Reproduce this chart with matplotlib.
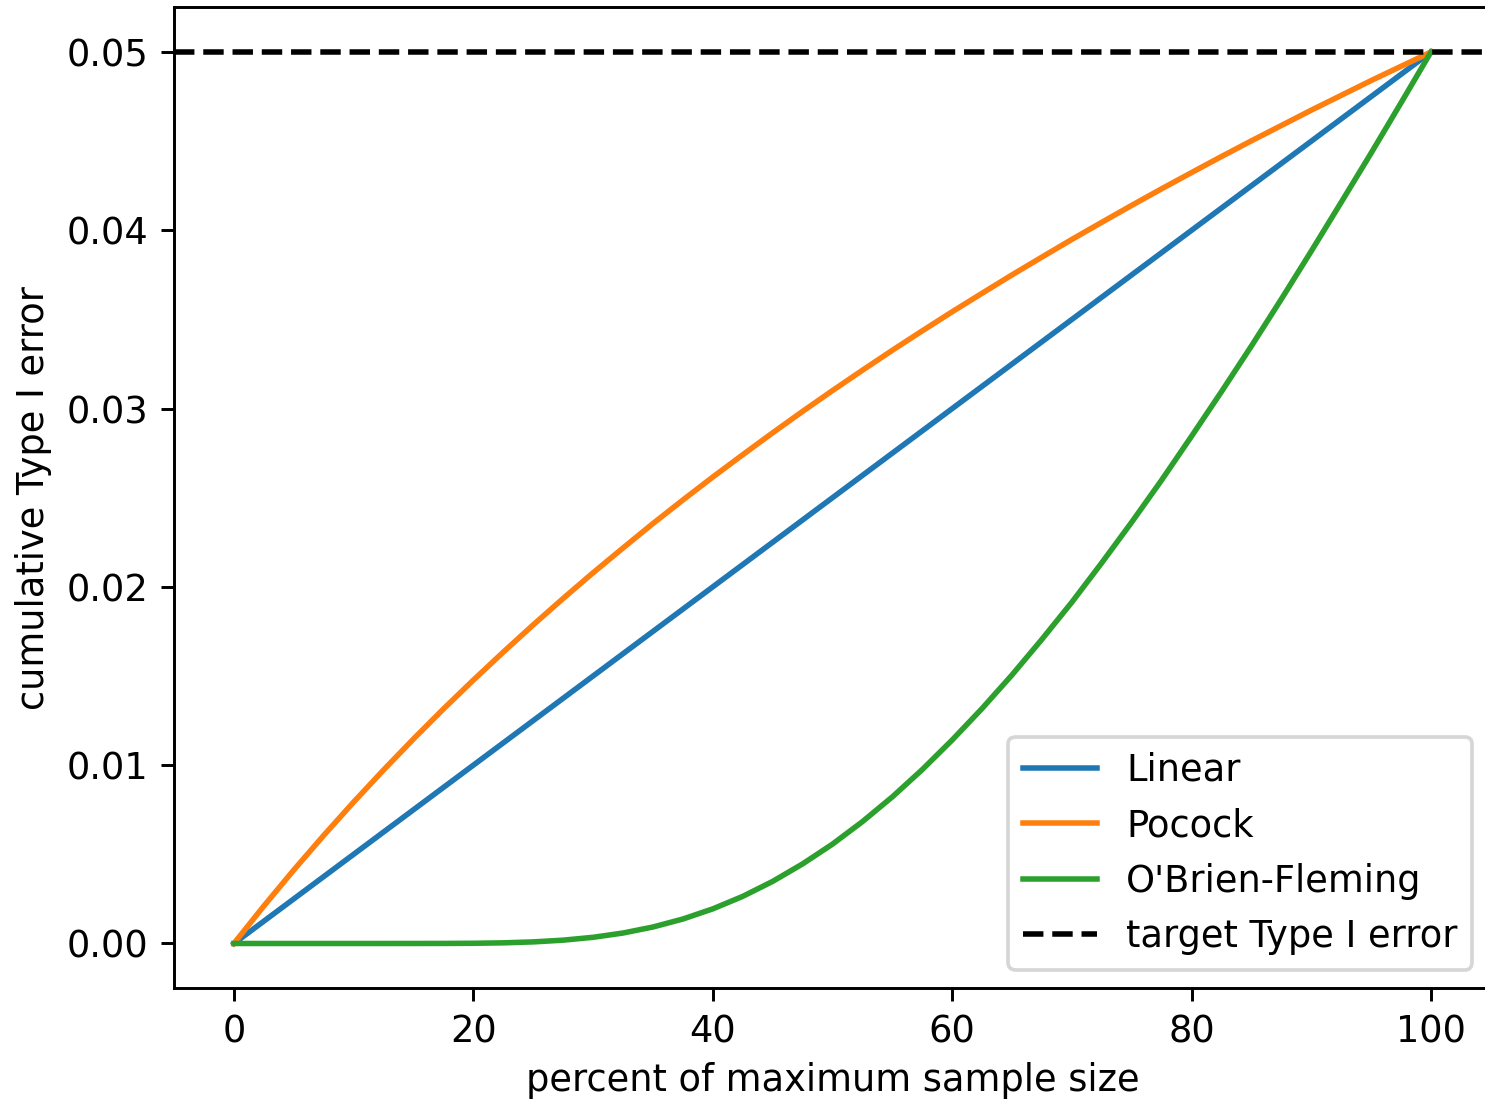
import matplotlib
matplotlib.use("Agg")
import matplotlib.pyplot as plt

# percent of maximum sample size
percent = [0, 2.5, 5, 7.5, 10, 12.5, 15, 17.5, 20, 22.5, 25, 27.5, 30, 32.5, 35, 37.5, 40,
           42.5, 45, 47.5, 50, 52.5, 55, 57.5, 60, 62.5, 65, 67.5, 70, 72.5, 75, 77.5, 80,
           82.5, 85, 87.5, 90, 92.5, 95, 97.5, 100]

# cumulative Type I error
linear = [0.0, 0.00125, 0.0025, 0.00375, 0.005, 0.00625, 0.0075, 0.00875, 0.010, 0.01125,
          0.0125, 0.01375, 0.015, 0.01625, 0.0175, 0.01875, 0.020, 0.02125, 0.0225, 0.02375,
          0.025, 0.02625, 0.0275, 0.02875, 0.030, 0.03125, 0.0325, 0.03375, 0.035, 0.03625,
          0.0375, 0.03875, 0.040, 0.04125, 0.0425, 0.04375, 0.045, 0.04625, 0.0475, 0.04875, 0.05]
pocock = [0.0, 0.00210, 0.00412, 0.00606, 0.00793, 0.00973, 0.01147, 0.01315, 0.01477, 0.01634,
          0.01787, 0.01935, 0.02079, 0.02218, 0.02355, 0.02487, 0.02616, 0.02741, 0.02864, 0.02984,
          0.03101, 0.03215, 0.03327, 0.03436, 0.03543, 0.03647, 0.03750, 0.03850, 0.03949, 0.04045,
          0.04140, 0.04233, 0.04324, 0.04414, 0.04502, 0.04588, 0.04674, 0.04757, 0.04840, 0.04920, 0.05]
obrien_fleming = [0.0, 0.0, 0.0, 0.0, 0.0, 0.0, 0.0000004, 0.0000028, 0.0000117, 0.000036,
                  0.0000886, 0.000186, 0.000346, 0.000586, 0.000923, 0.00137, 0.00194, 0.00264,
                  0.00348, 0.00446, 0.00557, 0.00683, 0.00822, 0.00975, 0.01141, 0.01318,
                  0.01506, 0.01706, 0.01914, 0.02135, 0.02363, 0.02599, 0.02845, 0.03095,
                  0.03351, 0.03614, 0.03883, 0.04157, 0.04433, 0.04715, 0.05]
target_alpha = 0.05

dpi = 265
fig = plt.figure(figsize=(1485 / dpi, 1102 / dpi), dpi=dpi)
# the reference is cropped so the right spine falls just outside the image
ax = fig.add_axes([0.1172, 0.1034, 0.8867, 0.8898])

ax.plot(percent, linear, label="Linear")
ax.plot(percent, pocock, label="Pocock")
ax.plot(percent, obrien_fleming, label="O'Brien-Fleming")
ax.axhline(y=target_alpha, color="black", linestyle="--", label="target Type I error")

ax.set_xlim(-5, 105)
ax.set_ylim(-0.0025, 0.0525)
ax.spines["right"].set_visible(False)
ax.set_xlabel("percent of maximum sample size", labelpad=3)
ax.set_ylabel("cumulative Type I error")
ax.legend(loc="lower right")

fig.savefig("out.png", dpi=dpi)
